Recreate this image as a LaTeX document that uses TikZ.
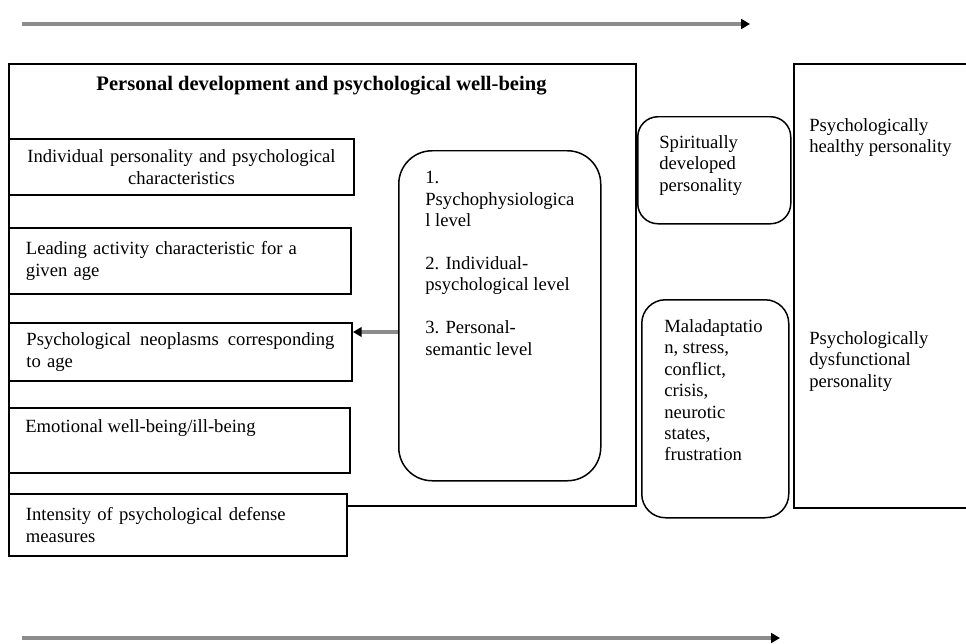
\documentclass[tikz,border=0pt]{standalone}
\usepackage{fontspec}
\setmainfont{Liberation Serif}
\usetikzlibrary{arrows.meta}

\tikzset{
  frame/.style={draw,line width=1.1pt,rectangle,anchor=north west,fill=white},
  itembox/.style={frame,inner xsep=3.4mm,inner ysep=0pt},
  roundbox/.style={draw,line width=0.85pt,rectangle,anchor=north west,fill=white},
  boxtext/.style={anchor=north west,align=left},
  flow/.style={draw=black!45,line width=1.9pt,-{Triangle[black,length=5pt,width=5.5pt]}}
}

\begin{document}
\begin{tikzpicture}[x=0.2mm,y=-0.2mm,line join=miter,every node/.style={inner sep=0pt,font=\fontsize{10.6pt}{12.2pt}\selectfont}]
  \useasboundingbox (0,0) rectangle (966,643);
  \clip (0,0) rectangle (966,643);
  % time axis, top
  \coordinate (topstart) at (22,24);
  \coordinate (topend) at (750,24);
  \draw[flow] (topstart) -- (topend);
  % left block
  \node[frame,minimum width=125.4mm,minimum height=88.4mm] (main) at (8,63) {};
  \node[anchor=base,font=\fontsize{11.7pt}{14pt}\selectfont\bfseries] (title) at (321.5,90) {Personal development and psychological well-being};
  \node[itembox,minimum width=69mm,minimum height=11.2mm,text width=62.2mm,align=center] (indiv) at (8,138) {Individual personality and psychological\\characteristics};
  \node[itembox,minimum width=68.4mm,minimum height=13.2mm,text width=61.6mm,align=left] (lead) at (8,227) {Leading activity characteristic for a\\given age};
  \node[itembox,minimum width=68.6mm,minimum height=11.6mm,text width=61.6mm,align=left] (neo) at (8,322) {Psychological\hfill neoplasms\hfill corresponding\\to age};
  \node[itembox,minimum width=68.2mm,minimum height=13mm] (emo) at (8,407) {};
  \node[anchor=base west] (emotext) at (25,432) {Emotional well-being/ill-being};
  \node[itembox,minimum width=67.6mm,minimum height=12.4mm,text width=60.8mm,align=left] (defense) at (8,493) {Intensity of psychological defense\\measures};
  % levels
  \node[roundbox,rounded corners=19pt,minimum width=40.4mm,minimum height=66mm] (levels) at (398,150) {};
  \node[boxtext] (levelstext) at (425,171) {1.\\Psychophysiologica\\l level\\[12.2pt]2. Individual-\\psychological level\\[12.2pt]3. Personal-\\semantic level};
  \draw[flow] (levels.west |- 0,332) -- (neo.east |- 0,332);
  % middle column
  \node[roundbox,rounded corners=11.5pt,minimum width=30.6mm,minimum height=21.4mm] (spirit) at (637,116) {};
  \node[boxtext] (spirittext) at (659,135) {Spiritually\\developed\\personality};
  \node[roundbox,rounded corners=13.5pt,minimum width=29.4mm,minimum height=43.6mm] (malad) at (641,299) {};
  \node[boxtext] (maladtext) at (664,319) {Maladaptatio\\n, stress,\\conflict,\\crisis,\\neurotic\\states,\\frustration};
  % right block, runs off the page edge
  \node[frame,minimum width=44mm,minimum height=88.8mm] (result) at (793,63) {};
  \node[boxtext] (healthy) at (809,118) {Psychologically\\healthy personality};
  \node[boxtext] (dysfunc) at (809,331) {Psychologically\\dysfunctional\\personality};
  % time axis, bottom
  \coordinate (botstart) at (22,638);
  \coordinate (botend) at (780,638);
  \draw[flow] (botstart) -- (botend);
\end{tikzpicture}
\end{document}
